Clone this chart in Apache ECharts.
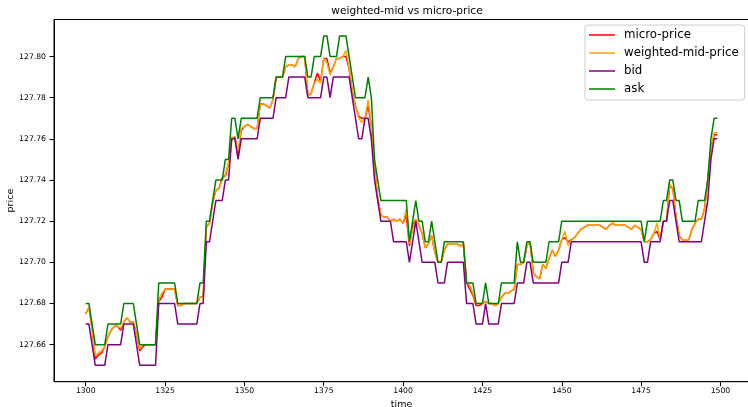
<!DOCTYPE html>
<html>
<head>
<meta charset="utf-8">
<script src="https://cdn.jsdelivr.net/npm/echarts@6/dist/echarts.min.js"></script>
<style>
html,body{margin:0;padding:0;background:#fff;}
#chart{width:748px;height:407px;}
</style>
</head>
<body>
<div id="chart"></div>
<script>
const time = [
1300,1301,1302,1303,1304,1305,1306,1307,1308,1309,1310,1311,1312,1313,1314,1315,1316,1317,1318,1319,
1320,1321,1322,1323,1324,1325,1326,1327,1328,1329,1330,1331,1332,1333,1334,1335,1336,1337,1338,1339,
1340,1341,1342,1343,1344,1345,1346,1347,1348,1349,1350,1351,1352,1353,1354,1355,1356,1357,1358,1359,
1360,1361,1362,1363,1364,1365,1366,1367,1368,1369,1370,1371,1372,1373,1374,1375,1376,1377,1378,1379,
1380,1381,1382,1383,1384,1385,1386,1387,1388,1389,1390,1391,1392,1393,1394,1395,1396,1397,1398,1399,
1400,1401,1402,1403,1404,1405,1406,1407,1408,1409,1410,1411,1412,1413,1414,1415,1416,1417,1418,1419,
1420,1421,1422,1423,1424,1425,1426,1427,1428,1429,1430,1431,1432,1433,1434,1435,1436,1437,1438,1439,
1440,1441,1442,1443,1444,1445,1446,1447,1448,1449,1450,1451,1452,1453,1454,1455,1456,1457,1458,1459,
1460,1461,1462,1463,1464,1465,1466,1467,1468,1469,1470,1471,1472,1473,1474,1475,1476,1477,1478,1479,
1480,1481,1482,1483,1484,1485,1486,1487,1488,1489,1490,1491,1492,1493,1494,1495,1496,1497,1498,1499
];

const microPrice = [
127.675,127.678,127.668,127.653,127.655,127.656,127.659,127.664,127.667,127.669,
127.669,127.667,127.671,127.673,127.671,127.671,127.665,127.657,127.659,127.660,
127.660,127.660,127.660,127.681,127.683,127.687,127.687,127.687,127.687,127.679,
127.679,127.680,127.680,127.680,127.680,127.680,127.683,127.683,127.717,127.719,
127.729,127.735,127.736,127.741,127.742,127.748,127.760,127.761,127.752,127.764,
127.766,127.767,127.766,127.765,127.765,127.777,127.777,127.776,127.775,127.779,
127.790,127.790,127.790,127.795,127.796,127.796,127.795,127.799,127.800,127.800,
127.781,127.782,127.787,127.792,127.788,127.799,127.799,127.792,127.795,127.799,
127.799,127.800,127.800,127.794,127.783,127.776,127.771,127.770,127.770,127.776,
127.766,127.746,127.731,127.723,127.722,127.722,127.720,127.721,127.720,127.721,
127.719,127.723,127.708,127.718,127.721,127.718,127.714,127.707,127.709,127.713,
127.705,127.700,127.700,127.706,127.709,127.709,127.709,127.709,127.708,127.709,
127.690,127.687,127.684,127.679,127.679,127.680,127.681,127.680,127.680,127.679,
127.680,127.683,127.685,127.685,127.686,127.687,127.699,127.699,127.700,127.708,
127.710,127.695,127.693,127.692,127.699,127.697,127.702,127.706,127.703,127.706,
127.711,127.712,127.710,127.711,127.712,127.714,127.716,127.717,127.718,127.718,
127.718,127.718,127.718,127.717,127.716,127.718,127.719,127.718,127.718,127.718,
127.718,127.717,127.716,127.718,127.717,127.716,127.710,127.710,127.711,127.714,
127.715,127.711,127.720,127.720,127.737,127.736,127.722,127.713,127.711,127.711,
127.711,127.716,127.719,127.721,127.721,127.726,127.740,127.755,127.762,127.762
];

const weightedMid = [
127.675,127.678,127.668,127.6545,127.656,127.657,127.659,127.664,127.667,127.669,
127.669,127.668,127.671,127.673,127.671,127.671,127.665,127.658,127.660,127.660,
127.660,127.660,127.660,127.682,127.685,127.687,127.687,127.687,127.687,127.679,
127.679,127.680,127.680,127.680,127.680,127.680,127.683,127.683,127.717,127.719,
127.729,127.735,127.736,127.740,127.743,127.748,127.761,127.760,127.754,127.765,
127.766,127.767,127.766,127.765,127.765,127.777,127.777,127.776,127.775,127.779,
127.790,127.790,127.790,127.795,127.796,127.796,127.795,127.799,127.800,127.800,
127.781,127.782,127.787,127.789,127.787,127.799,127.797,127.791,127.795,127.799,
127.799,127.800,127.803,127.794,127.783,127.776,127.770,127.768,127.770,127.779,
127.766,127.746,127.731,127.723,127.722,127.722,127.720,127.721,127.720,127.721,
127.719,127.726,127.709,127.716,127.721,127.718,127.714,127.707,127.709,127.713,
127.705,127.700,127.700,127.706,127.709,127.709,127.709,127.709,127.708,127.709,
127.690,127.689,127.685,127.680,127.680,127.680,127.681,127.680,127.680,127.679,
127.680,127.683,127.685,127.685,127.686,127.687,127.699,127.699,127.700,127.708,
127.710,127.695,127.693,127.692,127.699,127.697,127.702,127.706,127.703,127.706,
127.711,127.715,127.708,127.711,127.712,127.714,127.716,127.717,127.718,127.718,
127.718,127.718,127.718,127.717,127.716,127.718,127.719,127.718,127.718,127.718,
127.718,127.717,127.716,127.718,127.717,127.716,127.710,127.710,127.711,127.714,
127.719,127.711,127.720,127.720,127.738,127.736,127.722,127.713,127.711,127.711,
127.711,127.716,127.719,127.721,127.721,127.726,127.740,127.755,127.763,127.763
];

const bid = [
127.67,127.67,127.66,127.65,127.65,127.65,127.65,127.66,127.66,127.66,
127.66,127.66,127.67,127.67,127.67,127.67,127.66,127.65,127.65,127.65,
127.65,127.65,127.65,127.68,127.68,127.68,127.68,127.68,127.68,127.67,
127.67,127.67,127.67,127.67,127.67,127.67,127.68,127.68,127.71,127.71,
127.72,127.73,127.73,127.73,127.74,127.74,127.76,127.76,127.75,127.76,
127.76,127.76,127.76,127.76,127.76,127.77,127.77,127.77,127.77,127.77,
127.78,127.78,127.78,127.78,127.79,127.79,127.79,127.79,127.79,127.79,
127.78,127.78,127.78,127.78,127.78,127.79,127.79,127.78,127.79,127.79,
127.79,127.79,127.79,127.79,127.78,127.77,127.76,127.76,127.77,127.77,
127.76,127.74,127.73,127.72,127.72,127.72,127.72,127.71,127.71,127.71,
127.71,127.71,127.70,127.71,127.72,127.71,127.70,127.70,127.70,127.70,
127.70,127.69,127.69,127.69,127.70,127.70,127.70,127.70,127.70,127.70,
127.68,127.68,127.68,127.67,127.67,127.67,127.68,127.67,127.67,127.67,
127.67,127.68,127.68,127.68,127.68,127.68,127.69,127.69,127.69,127.70,
127.70,127.69,127.69,127.69,127.69,127.69,127.69,127.69,127.69,127.69,
127.70,127.70,127.70,127.71,127.71,127.71,127.71,127.71,127.71,127.71,
127.71,127.71,127.71,127.71,127.71,127.71,127.71,127.71,127.71,127.71,
127.71,127.71,127.71,127.71,127.71,127.71,127.70,127.70,127.71,127.71,
127.71,127.71,127.72,127.72,127.73,127.73,127.72,127.71,127.71,127.71,
127.71,127.71,127.71,127.71,127.71,127.72,127.73,127.75,127.76,127.76
];

const ask = [
127.68,127.68,127.67,127.66,127.66,127.66,127.66,127.67,127.67,127.67,
127.67,127.67,127.68,127.68,127.68,127.68,127.67,127.66,127.66,127.66,
127.66,127.66,127.66,127.69,127.69,127.69,127.69,127.69,127.69,127.68,
127.68,127.68,127.68,127.68,127.68,127.68,127.69,127.69,127.72,127.72,
127.73,127.74,127.74,127.74,127.75,127.75,127.77,127.77,127.76,127.77,
127.77,127.77,127.77,127.77,127.77,127.78,127.78,127.78,127.78,127.78,
127.79,127.79,127.79,127.80,127.80,127.80,127.80,127.80,127.80,127.80,
127.79,127.79,127.80,127.80,127.80,127.81,127.81,127.80,127.80,127.80,
127.81,127.81,127.81,127.80,127.79,127.78,127.78,127.78,127.78,127.79,
127.78,127.75,127.74,127.73,127.73,127.73,127.73,127.73,127.73,127.73,
127.73,127.73,127.71,127.72,127.73,127.72,127.72,127.71,127.71,127.72,
127.71,127.70,127.70,127.71,127.71,127.71,127.71,127.71,127.71,127.71,
127.69,127.69,127.69,127.68,127.68,127.68,127.69,127.68,127.68,127.68,
127.68,127.69,127.69,127.69,127.69,127.69,127.71,127.70,127.70,127.71,
127.71,127.70,127.70,127.70,127.70,127.70,127.71,127.71,127.71,127.71,
127.72,127.72,127.72,127.72,127.72,127.72,127.72,127.72,127.72,127.72,
127.72,127.72,127.72,127.72,127.72,127.72,127.72,127.72,127.72,127.72,
127.72,127.72,127.72,127.72,127.72,127.72,127.71,127.72,127.72,127.72,
127.72,127.72,127.73,127.73,127.74,127.74,127.73,127.73,127.72,127.72,
127.72,127.72,127.72,127.73,127.73,127.73,127.74,127.76,127.77,127.77
];

const xTicks = [1300, 1325, 1350, 1375, 1400, 1425, 1450, 1475, 1500];
const yTicks = [127.66, 127.68, 127.70, 127.72, 127.74, 127.76, 127.78, 127.80];

const FONT = 'DejaVu Sans';
function pairs(vals) { return time.map((t, i) => [t, vals[i]]); }
function lineSeries(name, vals, color) {
  return {
    name: name, type: 'line', data: pairs(vals),
    showSymbol: false, symbol: 'none', animation: false,
    lineStyle: { color: color, width: 1.5 },
    itemStyle: { color: color }
  };
}

const chart = echarts.init(document.getElementById('chart'), null, { renderer: 'canvas' });
chart.setOption({
  animation: false,
  backgroundColor: '#ffffff',
  title: {
    text: 'weighted-mid vs micro-price',
    left: 407, top: 6, textAlign: 'center', padding: 0,
    textStyle: { fontFamily: FONT, fontSize: 10.6, fontWeight: 'normal', color: '#000' }
  },
  grid: {
    left: 54, top: 19.5, right: -1, bottom: 25.3,
    show: true, borderColor: '#000', borderWidth: 1,
    containLabel: false, outerBoundsMode: 'none'
  },
  legend: {
    orient: 'vertical', left: 585, top: 25,
    padding: [3, 6, 4, 4], itemGap: 4,
    itemWidth: 26, itemHeight: 1.5, icon: 'rect',
    backgroundColor: 'rgba(255,255,255,0.85)',
    borderColor: '#cccccc', borderWidth: 1, borderRadius: 3,
    textStyle: { fontFamily: FONT, fontSize: 11.8, color: '#000', lineHeight: 14, padding: [0, 0, 0, 4] },
    data: ['micro-price', 'weighted-mid-price', 'bid', 'ask']
  },
  xAxis: {
    type: 'value', min: 1290, max: 1509,
    name: 'time', nameLocation: 'middle', nameGap: 13,
    nameTextStyle: { fontFamily: FONT, fontSize: 9.5, color: '#000' },
    axisLine: { lineStyle: { color: '#000', width: 1 } },
    axisTick: { show: true, length: 4.5, lineStyle: { color: '#000' }, customValues: xTicks },
    axisLabel: { fontFamily: FONT, fontSize: 7.7, color: '#000', margin: 5, customValues: xTicks,
      formatter: v => String(v) },
    splitLine: { show: false }
  },
  yAxis: {
    type: 'value', min: 127.642, max: 127.818,
    name: 'price', nameLocation: 'middle', nameGap: 38, nameMoveOverlap: false,
    nameTextStyle: { fontFamily: FONT, fontSize: 9.5, color: '#000' },
    axisLine: { show: true, lineStyle: { color: '#000', width: 1 } },
    axisTick: { show: true, length: 4.5, lineStyle: { color: '#000' }, customValues: yTicks },
    axisLabel: { fontFamily: FONT, fontSize: 7.7, color: '#000', margin: 8, customValues: yTicks,
      formatter: v => v.toFixed(2) },
    splitLine: { show: false }
  },
  series: [
    lineSeries('micro-price', microPrice, '#ff0000'),
    lineSeries('weighted-mid-price', weightedMid, '#ffa500'),
    lineSeries('bid', bid, '#800080'),
    lineSeries('ask', ask, '#008000')
  ]
});
</script>
</body>
</html>
